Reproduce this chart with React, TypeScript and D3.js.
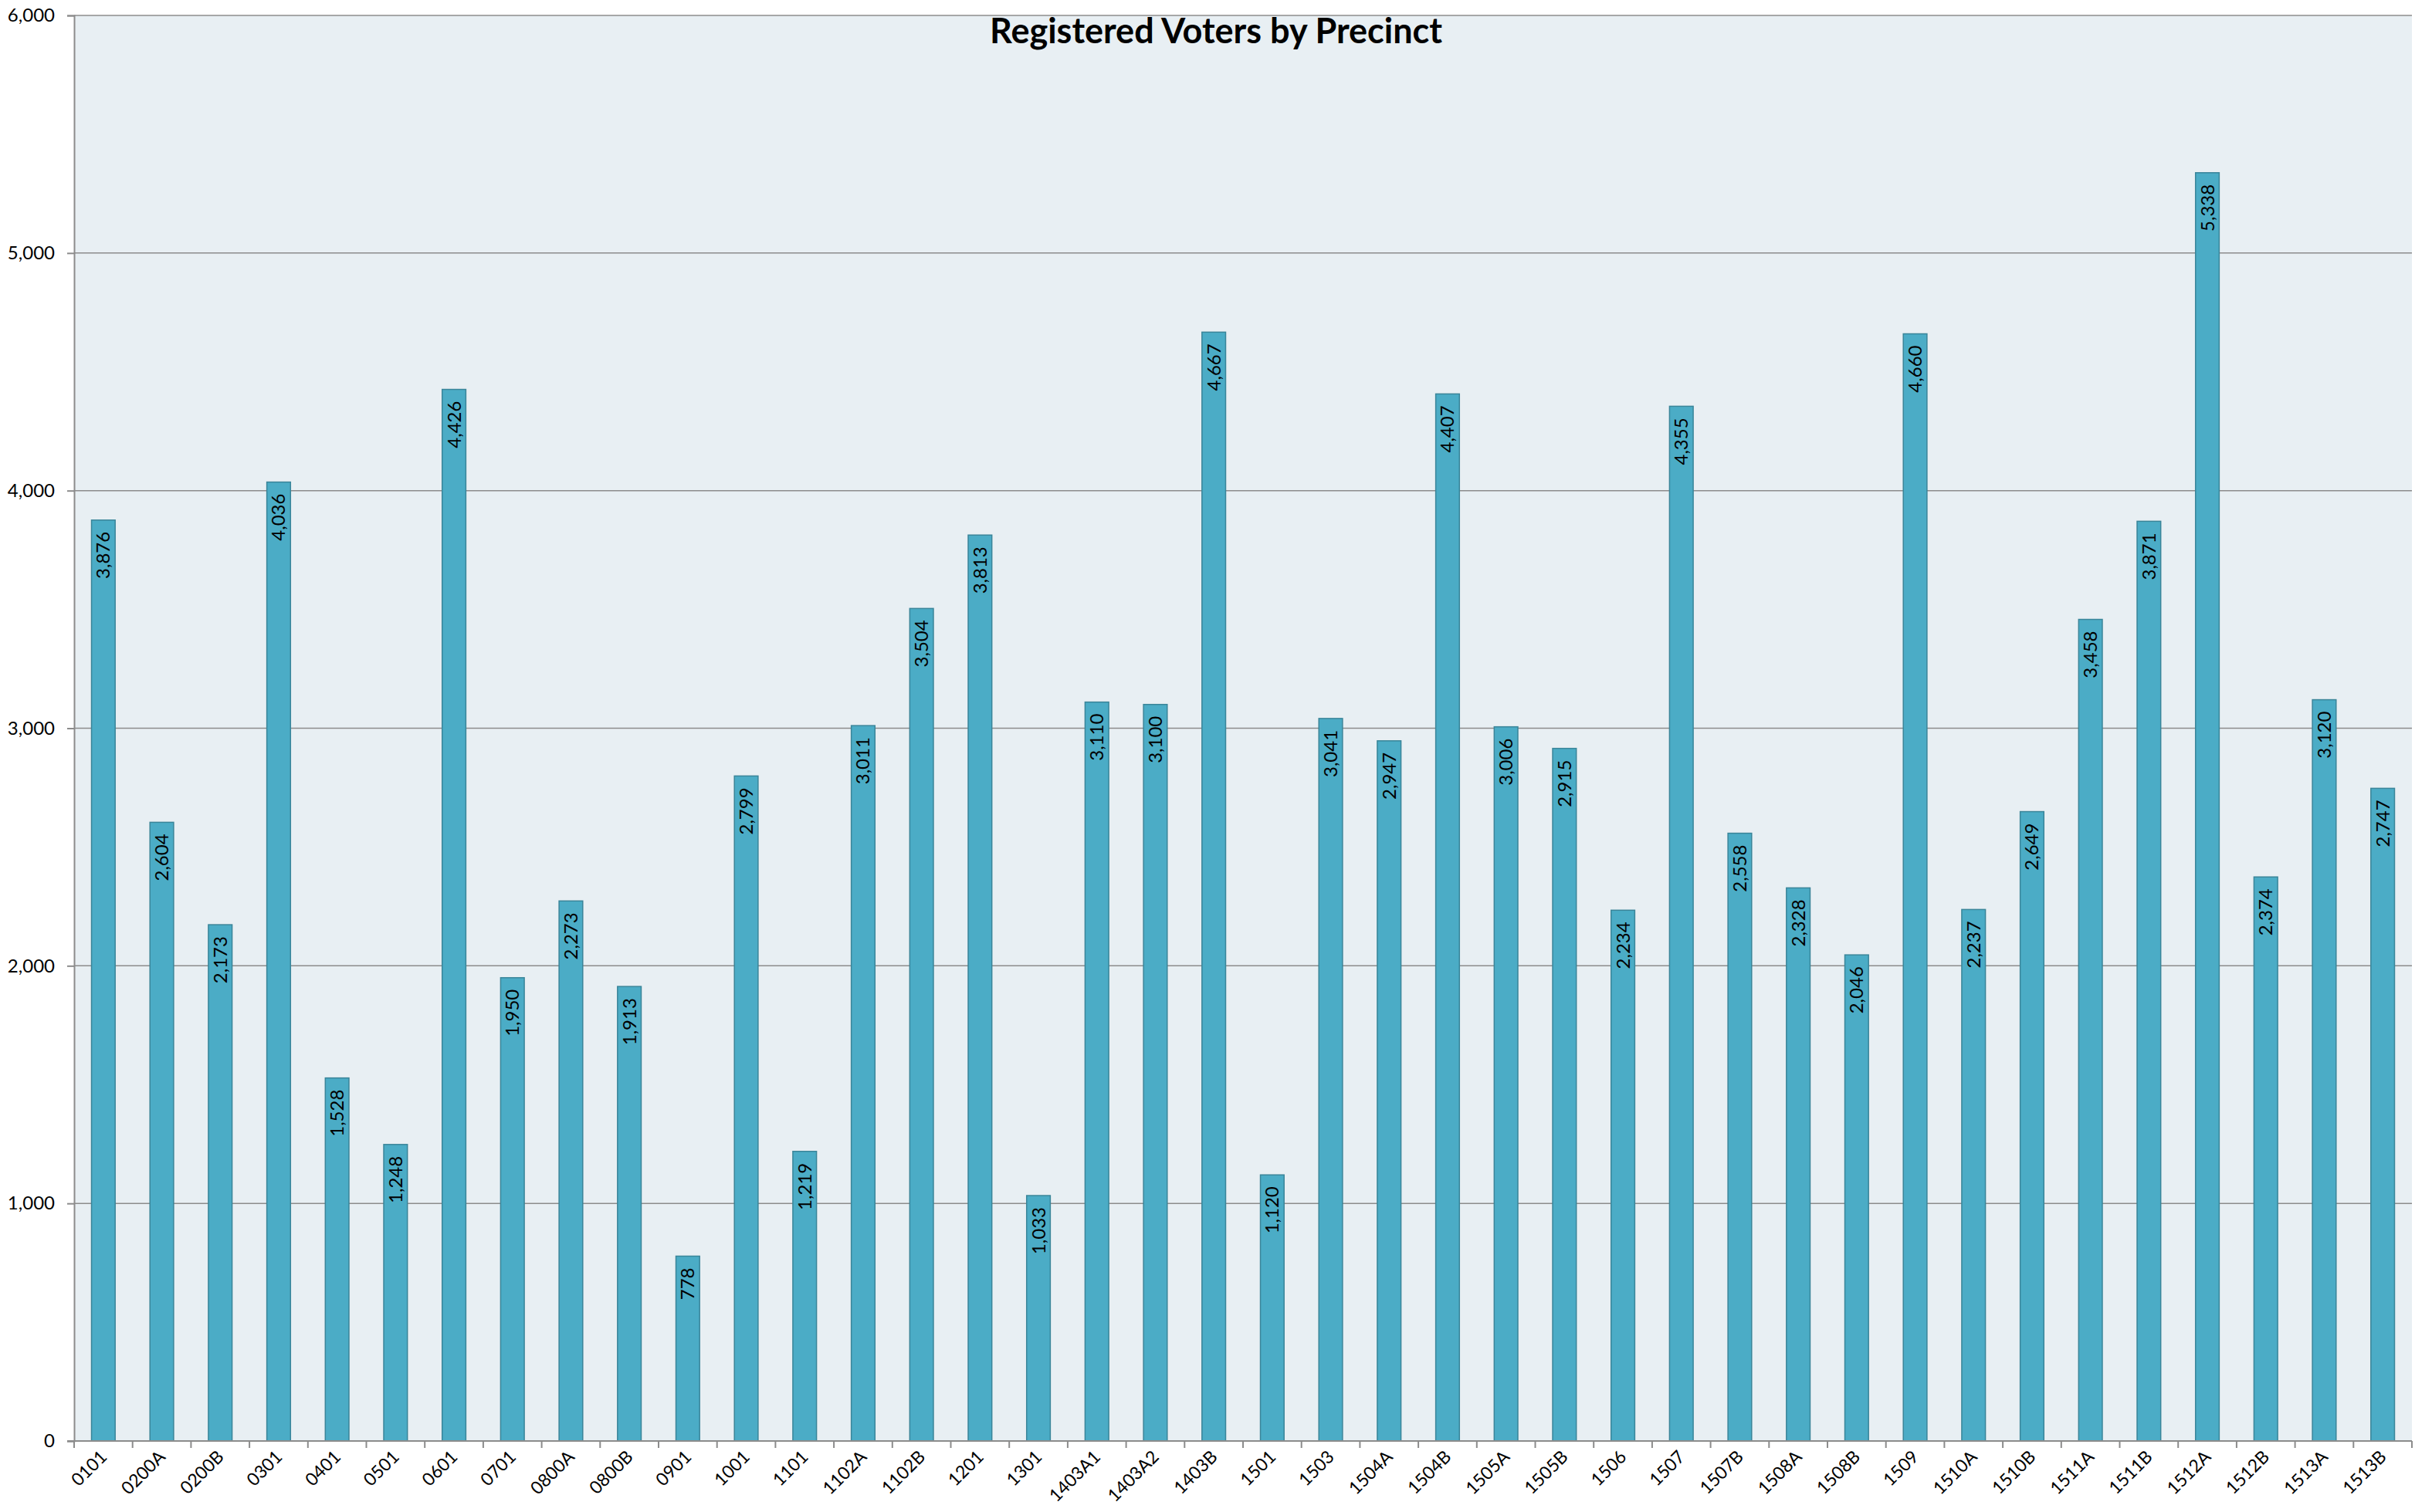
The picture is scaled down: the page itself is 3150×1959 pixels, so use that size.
import { useEffect, useRef } from "react";
import * as d3 from "d3";

const precincts = [
  "0101", "0200A", "0200B", "0301", "0401", "0501", "0601", "0701", "0800A", "0800B",
  "0901", "1001", "1101", "1102A", "1102B", "1201", "1301", "1403A1", "1403A2", "1403B",
  "1501", "1503", "1504A", "1504B", "1505A", "1505B", "1506", "1507", "1507B", "1508A",
  "1508B", "1509", "1510A", "1510B", "1511A", "1511B", "1512A", "1512B", "1513A", "1513B",
];

const voters = [
  3876, 2604, 2173, 4036, 1528, 1248, 4426, 1950, 2273, 1913,
  778, 2799, 1219, 3011, 3504, 3813, 1033, 3110, 3100, 4667,
  1120, 3041, 2947, 4407, 3006, 2915, 2234, 4355, 2558, 2328,
  2046, 4660, 2237, 2649, 3458, 3871, 5338, 2374, 3120, 2747,
];

const yTicks = [0, 1000, 2000, 3000, 4000, 5000, 6000];

const title = "Registered Voters by Precinct";

const W = 3150;
const H = 1959;

const App = () => {
  const svgRef = useRef<SVGSVGElement>(null);

  useEffect(() => {
    const svg = d3.select(svgRef.current);
    svg.selectAll("*").remove();

    const margin = { top: 20, right: 26, bottom: 92, left: 96 };
    const innerWidth = W - margin.left - margin.right;
    const innerHeight = H - margin.top - margin.bottom;
    const font = "Lato, 'Open Sans', sans-serif";

    const xScale = d3
      .scaleBand()
      .domain(precincts)
      .range([0, innerWidth])
      .paddingInner(0.595)
      .paddingOuter(0.2975);

    const yScale = d3.scaleLinear().domain([0, 6000]).range([innerHeight, 0]);

    const g = svg
      .append("g")
      .attr("transform", `translate(${margin.left}, ${margin.top})`);

    // plot background
    g.append("rect")
      .attr("width", innerWidth)
      .attr("height", innerHeight)
      .attr("fill", "#e8eff3");

    // gridlines
    g.append("g")
      .selectAll("line")
      .data(yTicks.filter((t) => t > 0))
      .join("line")
      .attr("x1", 0)
      .attr("x2", innerWidth)
      .attr("y1", (d) => yScale(d))
      .attr("y2", (d) => yScale(d))
      .attr("stroke", "#8c8c8c")
      .attr("stroke-width", 1.5);

    // y axis
    const yAxis = d3
      .axisLeft(yScale)
      .tickValues(yTicks)
      .tickSize(9)
      .tickPadding(16)
      .tickFormat(d3.format(","));

    const yG = g.append("g").call(yAxis);
    yG.select(".domain").attr("stroke", "#8c8c8c").attr("stroke-width", 2);
    yG.selectAll(".tick line").attr("stroke", "#8c8c8c").attr("stroke-width", 2);
    yG.selectAll(".tick text")
      .attr("font-family", font)
      .attr("font-size", 24)
      .attr("fill", "#000");

    // bars
    g.append("g")
      .selectAll("rect")
      .data(voters)
      .join("rect")
      .attr("x", (d, i) => xScale(precincts[i]))
      .attr("y", (d) => yScale(d))
      .attr("width", xScale.bandwidth())
      .attr("height", (d) => innerHeight - yScale(d))
      .attr("fill", "#4bacc6")
      .attr("stroke", "#3a8599")
      .attr("stroke-width", 1.5);

    // data labels
    g.append("g")
      .selectAll("text")
      .data(voters)
      .join("text")
      .attr(
        "transform",
        (d, i) =>
          `translate(${xScale(precincts[i]) + xScale.bandwidth() / 2 + 8.5}, ${yScale(d) + 15}) rotate(-90)`
      )
      .attr("text-anchor", "end")
      .attr("font-family", font)
      .attr("font-size", 24)
      .attr("fill", "#000")
      .text((d) => d3.format(",")(d));

    // x axis
    const xAxisG = g.append("g").attr("transform", `translate(0, ${innerHeight})`);
    xAxisG
      .append("line")
      .attr("x1", -9)
      .attr("x2", innerWidth)
      .attr("stroke", "#8c8c8c")
      .attr("stroke-width", 2);

    const step = xScale.step();
    xAxisG
      .selectAll("line.tick")
      .data(d3.range(precincts.length + 1))
      .join("line")
      .attr("class", "tick")
      .attr("x1", (d) => d * step)
      .attr("x2", (d) => d * step)
      .attr("y1", 0)
      .attr("y2", 9)
      .attr("stroke", "#8c8c8c")
      .attr("stroke-width", 2);

    xAxisG
      .selectAll("text")
      .data(precincts)
      .join("text")
      .attr(
        "transform",
        (d) => `translate(${xScale(d) + xScale.bandwidth() / 2 + 6}, 22) rotate(-45)`
      )
      .attr("text-anchor", "end")
      .attr("font-family", font)
      .attr("font-size", 23)
      .attr("fill", "#000")
      .text((d) => d);

    // title
    svg
      .append("text")
      .attr("x", W / 2)
      .attr("y", 56)
      .attr("text-anchor", "middle")
      .attr("font-family", font)
      .attr("font-weight", "bold")
      .attr("font-size", 45)
      .attr("fill", "#000")
      .text(title);
  }, []);

  return (
    <div style={{ position: "absolute", left: 0, top: 0 }}>
      <svg ref={svgRef} width={W} height={H} style={{ display: "block", background: "#fff" }} />
    </div>
  );
};

export default App;
